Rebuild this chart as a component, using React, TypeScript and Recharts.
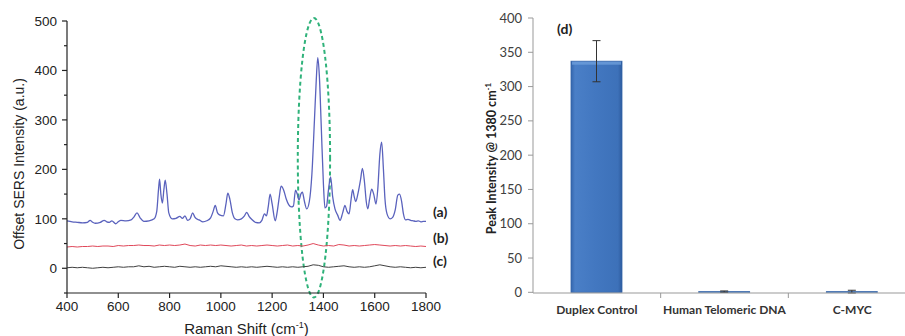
import React from 'react';
import {
  LineChart, Line, XAxis, YAxis, ReferenceArea, Label,
  BarChart, Bar, ErrorBar,
} from 'recharts';

// ---------- Left panel: SERS spectra ----------
const blueX = [400, 420, 440, 460, 480, 490, 500, 510, 530, 545, 555, 565, 575, 590, 600, 610, 630, 650, 660, 673, 685, 700, 720, 740, 750, 757, 761, 766, 772, 778, 783, 790, 797, 810, 825, 840, 850, 860, 870, 880, 890, 898, 905, 915, 930, 945, 960, 970, 978, 987, 995, 1010, 1020, 1027, 1035, 1045, 1055, 1065, 1080, 1092, 1101, 1110, 1120, 1135, 1150, 1160, 1170, 1178, 1185, 1192, 1200, 1212, 1220, 1228, 1235, 1245, 1255, 1265, 1275, 1283, 1291, 1298, 1305, 1312, 1318, 1326, 1335, 1345, 1355, 1365, 1372, 1378, 1384, 1392, 1400, 1406, 1412, 1420, 1428, 1436, 1445, 1455, 1465, 1475, 1484, 1492, 1500, 1508, 1514, 1520, 1526, 1535, 1545, 1552, 1560, 1567, 1573, 1580, 1588, 1596, 1605, 1612, 1620, 1627, 1634, 1640, 1648, 1660, 1670, 1680, 1690, 1697, 1705, 1712, 1720, 1730, 1740, 1750, 1760, 1770, 1780, 1790, 1800];
const blueY = [96, 94, 93, 92, 93, 97, 93, 91, 93, 97, 94, 93, 96, 90, 94, 97, 96, 98, 103, 112, 102, 95, 96, 100, 115, 160, 180, 150, 132, 160, 178, 150, 112, 100, 101, 105, 101, 106, 97, 100, 112, 104, 100, 98, 94, 96, 102, 115, 127, 112, 108, 106, 130, 152, 140, 112, 100, 98, 100, 106, 113, 105, 99, 93, 92, 97, 110, 106, 125, 150, 130, 96, 115, 145, 166, 158, 140, 128, 124, 126, 158, 150, 138, 150, 154, 135, 120, 135, 190, 300, 380, 426, 390, 280, 170, 122, 125, 160, 185, 145, 120, 108, 97, 112, 127, 115, 110, 140, 159, 145, 135, 152, 180, 202, 175, 135, 120, 140, 160, 150, 130, 160, 230, 255, 200, 140, 110, 100, 103, 118, 148, 150, 135, 110, 98, 99, 97, 96, 95, 96, 94, 95, 95];

const flatX = [400, 420, 440, 460, 480, 500, 520, 540, 560, 580, 600, 620, 640, 660, 680, 700, 720, 740, 760, 780, 800, 820, 840, 860, 880, 900, 920, 940, 960, 980, 1000, 1020, 1040, 1060, 1080, 1100, 1120, 1140, 1160, 1180, 1200, 1220, 1240, 1260, 1280, 1300, 1320, 1340, 1360, 1380, 1400, 1420, 1440, 1460, 1480, 1500, 1520, 1540, 1560, 1580, 1600, 1620, 1640, 1660, 1680, 1700, 1720, 1740, 1760, 1780, 1800];
const redY = [43, 44, 43, 44, 44, 45, 44, 45, 45, 44, 46, 45, 46, 46, 47, 46, 46, 45, 47, 46, 47, 46, 47, 49, 46, 45, 47, 46, 47, 46, 47, 46, 45, 46, 47, 45, 46, 45, 46, 47, 46, 45, 46, 47, 45, 46, 45, 47, 50, 47, 45, 46, 45, 48, 47, 45, 46, 45, 46, 47, 48, 47, 46, 45, 46, 45, 46, 45, 44, 45, 44];
const blackY = [1, 2, 1, 2, 1, 0, 1, 2, 1, 2, 3, 2, 3, 3, 5, 3, 4, 2, 3, 4, 3, 2, 4, 3, 2, 3, 2, 3, 4, 3, 5, 4, 3, 2, 3, 2, 3, 2, 3, 4, 3, 2, 3, 2, 3, 2, 3, 4, 7, 6, 3, 2, 3, 4, 5, 3, 2, 3, 2, 3, 5, 7, 5, 3, 2, 3, 2, 1, 2, 1, 2];

const leftXTicks = [400, 500, 600, 700, 800, 900, 1000, 1100, 1200, 1300, 1400, 1500, 1600, 1700, 1800];
const leftYTicks = [-50, 0, 50, 100, 150, 200, 250, 300, 350, 400, 450, 500];
const seriesLabels = ['(a)', '(b)', '(c)'];
const highlight = { x1: 1300, x2: 1426, y1: -59, y2: 506 };

// ---------- Right panel: bar chart ----------
const categories = ['Duplex Control', 'Human Telomeric DNA', 'C-MYC'];
const peakValues = [337, 1, 1];
const peakErrors = [30, 1, 2];
const rightYTicks = [0, 50, 100, 150, 200, 250, 300, 350, 400];

const blueData = blueX.map((x, i) => ({ x, y: blueY[i] }));
const redData = flatX.map((x, i) => ({ x, y: redY[i] }));
const blackData = flatX.map((x, i) => ({ x, y: blackY[i] }));
const barData = categories.map((c, i) => ({ pos: i + 0.5, v: peakValues[i], err: peakErrors[i] }));
const barTicks = [0.5, 1, 1.5, 2, 2.5, 3];

const ARIAL = '"Liberation Sans", Arial, sans-serif';
const CAL = 'Lato, "Open Sans", sans-serif';

const LeftYTick = (props: any) => {
  const { x, y, payload } = props;
  const v = payload.value;
  const major = v % 100 === 0 && v >= 0;
  return (
    <g>
      <line x1={x + (major ? 5 : 7)} x2={x + 10} y1={y} y2={y} stroke="#222" strokeWidth={1.2} />
      {major && (
        <text x={x} y={y} dy="0.35em" textAnchor="end" fontSize={13.5} fontFamily={ARIAL} fill="#222">{v}</text>
      )}
    </g>
  );
};

const LeftXTick = (props: any) => {
  const { x, y, payload } = props;
  const v = payload.value;
  const major = v % 200 === 0;
  return (
    <g>
      <line x1={x} x2={x} y1={y - 7} y2={y - (major ? 2 : 4)} stroke="#222" strokeWidth={1.2} />
      {major && (
        <text x={x} y={y} dy="0.85em" textAnchor="middle" fontSize={13.5} fontFamily={ARIAL} fill="#222">{v}</text>
      )}
    </g>
  );
};

const BarXTick = (props: any) => {
  const { x, y, payload } = props;
  const v = payload.value;
  if (Number.isInteger(v)) {
    return <line x1={x} x2={x} y1={y} y2={y + 5} stroke="#999" strokeWidth={1} />;
  }
  return (
    <text x={x} y={y + 17} dy="0.35em" textAnchor="middle" fontSize={12} fontWeight={700} fontFamily={CAL} fill="#333">
      {categories[Math.floor(v)]}
    </text>
  );
};

const EllipseShape = (props: any) => {
  const { x, y, width, height } = props;
  return (
    <ellipse cx={x + width / 2} cy={y + height / 2} rx={width / 2} ry={height / 2}
      fill="none" stroke="#2fb27a" strokeWidth={2} strokeDasharray="4 3" />
  );
};

const BarShape = (props: any) => {
  const { x, y, width, height } = props;
  if (!height || height <= 0) return null;
  return (
    <g>
      <rect x={x} y={y} width={width} height={height} fill="url(#barGrad)" stroke="#3464a8" strokeWidth={0.8} />
      <rect x={x + 1} y={y + 0.5} width={width - 2} height={Math.min(3, height)} fill="#6d9ddb" opacity={0.8} />
    </g>
  );
};

export default function App() {
  return (
    <div style={{ position: 'absolute', left: 0, top: 0, width: 905, height: 336, overflow: 'hidden', background: '#fff' }}>
      <div style={{ position: 'absolute', left: 0, top: 0 }}>
        <LineChart width={460} height={336} margin={{ top: 21, right: 34, bottom: 0, left: 0 }}>
          <XAxis type="number" dataKey="x" domain={[400, 1800]} ticks={leftXTicks} height={43}
            tickLine={false} tickSize={5} tickMargin={2} tick={<LeftXTick />} axisLine={{ stroke: '#222', strokeWidth: 1.2 }}
            allowDataOverflow>
            <Label content={(p: any) => {
              const vb = p.viewBox;
              return (
                <text x={vb.x + vb.width / 2} y={vb.y + 36} dy="0.35em" textAnchor="middle" fontSize={15} fontFamily={ARIAL} fill="#222">
                  Raman Shift (cm<tspan dy="-6" fontSize={9}>-1</tspan><tspan dy="6">)</tspan>
                </text>
              );
            }} />
          </XAxis>
          <YAxis type="number" domain={[-50, 500]} ticks={leftYTicks} width={67}
            tickLine={false} tickSize={5} tickMargin={5} tick={<LeftYTick />} axisLine={{ stroke: '#222', strokeWidth: 1.2 }}
            allowDataOverflow>
            <Label content={(p: any) => {
              const vb = p.viewBox;
              const cy = vb.y + vb.height / 2 + 7;
              return (
                <text x={19} y={cy} dy="0.35em" textAnchor="middle" fontSize={14} fontFamily={ARIAL} fill="#222"
                  transform={`rotate(-90, 19, ${cy})`}>
                  Offset SERS Intensity (a.u.)
                </text>
              );
            }} />
          </YAxis>
          <Line data={blackData} dataKey="y" type="linear" stroke="#404040" strokeWidth={1} dot={false} isAnimationActive={false} />
          <Line data={redData} dataKey="y" type="linear" stroke="#e0485a" strokeWidth={1} dot={false} isAnimationActive={false} />
          <Line data={blueData} dataKey="y" type="monotone" stroke="#5a62bd" strokeWidth={1.3} dot={false} isAnimationActive={false} />
          <ReferenceArea x1={highlight.x1} x2={highlight.x2} y1={highlight.y1} y2={highlight.y2}
            ifOverflow="visible" shape={<EllipseShape />} />
        </LineChart>
      </div>
      <div style={{ position: 'absolute', left: 433, top: 203, fontFamily: CAL, fontWeight: 700, fontSize: 14, color: '#222', lineHeight: '18px' }}>{seriesLabels[0]}</div>
      <div style={{ position: 'absolute', left: 433, top: 229, fontFamily: CAL, fontWeight: 700, fontSize: 14, color: '#222', lineHeight: '18px' }}>{seriesLabels[1]}</div>
      <div style={{ position: 'absolute', left: 433, top: 252, fontFamily: CAL, fontWeight: 700, fontSize: 14, color: '#222', lineHeight: '18px' }}>{seriesLabels[2]}</div>

      <div style={{ position: 'absolute', left: 460, top: 0 }}>
        <BarChart width={456} height={336} data={barData} margin={{ top: 18, right: 0, bottom: 0, left: 0 }}>
          <defs>
            <linearGradient id="barGrad" x1="0" y1="0" x2="1" y2="0">
              <stop offset="0%" stopColor="#3566ad" />
              <stop offset="8%" stopColor="#4a7fc7" />
              <stop offset="50%" stopColor="#4277c0" />
              <stop offset="92%" stopColor="#3d71b9" />
              <stop offset="100%" stopColor="#2e5c9f" />
            </linearGradient>
          </defs>
          <XAxis type="number" dataKey="pos" domain={[0, 3]} ticks={barTicks} height={43}
            tickLine={false} tickSize={0} tickMargin={0} tick={<BarXTick />}
            axisLine={{ stroke: '#999', strokeWidth: 1 }} allowDataOverflow />
          <YAxis type="number" domain={[0, 400]} ticks={rightYTicks} width={73}
            tickSize={5} tickMargin={6} tickLine={{ stroke: '#999' }} axisLine={{ stroke: '#999', strokeWidth: 1 }}
            tick={{ fontSize: 13, fontFamily: CAL, fill: '#404040' }}>
            <Label content={(p: any) => {
              const vb = p.viewBox;
              const cy = vb.y + vb.height / 2 + 3;
              return (
                <text x={32} y={cy} dy="0.35em" textAnchor="middle" fontSize={12.5} fontWeight={700} fontFamily={CAL} fill="#222"
                  transform={`rotate(-90, 32, ${cy})`}>
                  Peak Intensity @ 1380 cm<tspan dy="-5" fontSize={8}>-1</tspan>
                </text>
              );
            }} />
          </YAxis>
          <Bar dataKey="v" barSize={51} shape={<BarShape />} isAnimationActive={false}>
            <ErrorBar dataKey="err" width={4} stroke="#333" strokeWidth={1} direction="y" />
          </Bar>
        </BarChart>
      </div>
      <div style={{ position: 'absolute', left: 557, top: 20, fontFamily: CAL, fontWeight: 700, fontSize: 14, color: '#222', lineHeight: '18px' }}>(d)</div>
    </div>
  );
}
